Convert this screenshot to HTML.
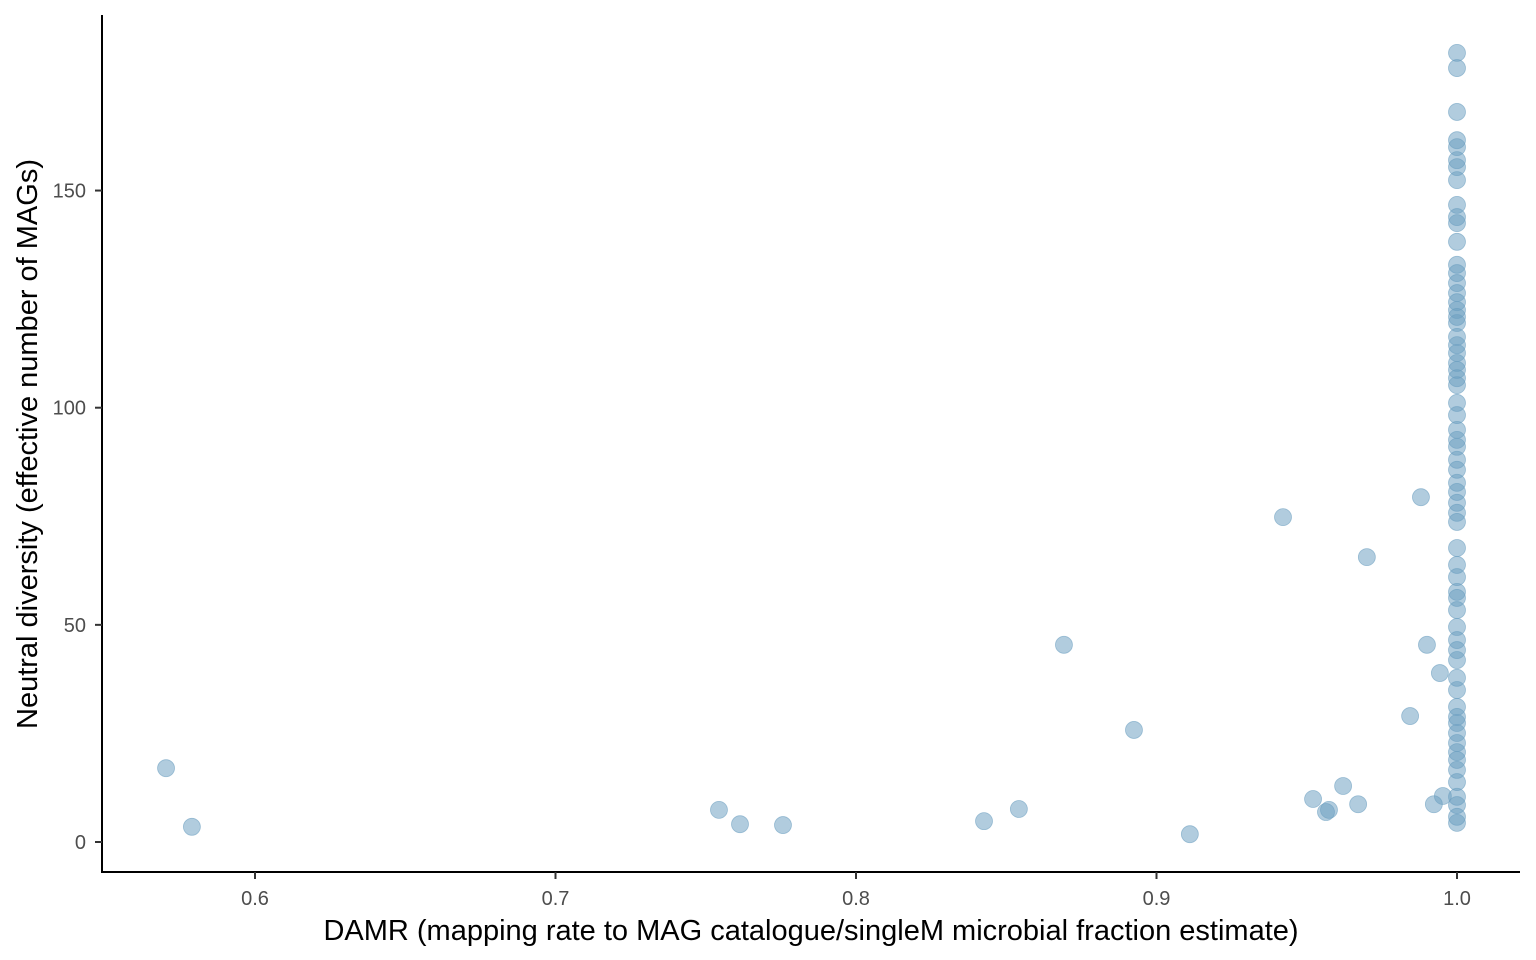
<!DOCTYPE html>
<html><head><meta charset="utf-8"><style>
html,body{margin:0;padding:0;background:#fff;}
svg{display:block;font-family:"Liberation Sans",Arial,sans-serif;}
</style></head><body>
<svg id="chart" width="1536" height="960">
<g id="axes"></g><g id="points"></g>
</svg>
<script>
const xTicks=[0.6,0.7,0.8,0.9,1.0];
const xTickLabels=["0.6","0.7","0.8","0.9","1.0"];
const yTicks=[0,50,100,150];
const yTickLabels=["0","50","100","150"];
const damrOff=[0.5704,0.579,0.7544,0.7614,0.7757,0.8426,0.8542,0.8692,0.8925,0.9111,0.9421,0.9521,0.9564,0.9574,0.9621,0.9671,0.97,0.9844,0.988,0.99,0.9943,0.9923,0.9953];
const divOff=[17.0,3.5,7.4,4.1,3.9,4.8,7.6,45.4,25.8,1.8,74.8,9.9,6.9,7.4,12.9,8.7,65.6,29,79.4,45.4,38.9,8.7,10.6];
const divFull=[181.7,178.2,168.1,161.6,160,157,155.4,152.4,146.7,143.9,142.5,138.2,132.9,131,128.7,126.4,124.3,122.5,120.9,119.5,116.3,114.4,112.6,110.3,108.7,106.8,105.2,101.1,98.3,94.9,92.6,91,88,85.7,82.7,80.6,78.1,75.8,73.7,67.7,63.8,61,57.6,56.2,53.4,49.5,46.5,44.2,41.9,37.8,35,31.1,28.8,27.4,25.1,22.8,20.7,18.9,16.6,13.8,10.4,8.5,5.8,4.4];
const NS="http://www.w3.org/2000/svg";
function xs(v){return 255+(v-0.6)*3005;}
function ys(v){return 842-v*4.343;}
function mk(tag,attrs,parent){const e=document.createElementNS(NS,tag);for(const k in attrs)e.setAttribute(k,attrs[k]);parent.appendChild(e);return e;}
const ax=document.getElementById('axes');
let l=mk('line',{x1:102,y1:15,x2:102,y2:873,stroke:'#000','stroke-width':2},ax);


l=mk('line',{x1:101,y1:872,x2:1520,y2:872,stroke:'#000','stroke-width':2},ax);


xTicks.forEach((t,i)=>{
 const x=xs(t);
 mk('line',{x1:x,y1:872,x2:x,y2:879,stroke:'#333','stroke-width':2},ax);
 const tx=mk('text',{x:x,y:905,'text-anchor':'middle','font-size':20,fill:'#4d4d4d'},ax);
 tx.textContent=xTickLabels[i];
 
 
});
yTicks.forEach((t,i)=>{
 const y=ys(t);
 mk('line',{x1:95,y1:y,x2:102,y2:y,stroke:'#333','stroke-width':2},ax);
 const tx=mk('text',{x:86,y:y+7,'text-anchor':'end','font-size':20,fill:'#4d4d4d'},ax);
 tx.textContent=yTickLabels[i];
 
 
});
let tt=mk('text',{x:811,y:940,'text-anchor':'middle','font-size':29,fill:'#000'},ax);
tt.textContent='DAMR (mapping rate to MAG catalogue/singleM microbial fraction estimate)';


tt=mk('text',{x:0,y:0,'text-anchor':'middle','font-size':29,fill:'#000',transform:'translate(37,444) rotate(-90)'},ax);
tt.textContent='Neutral diversity (effective number of MAGs)';


const pg=document.getElementById('points');
function pt(x,y){
 const c=mk('circle',{cx:xs(x),cy:ys(y),r:8.5,fill:'#6a9ebf','fill-opacity':0.52,stroke:'#6a9ebf','stroke-opacity':0.6,'stroke-width':0.8},pg);
 
 
}
damrOff.forEach((d,i)=>pt(d,divOff[i]));
divFull.forEach(v=>pt(1.0,v));
</script>
</body></html>
